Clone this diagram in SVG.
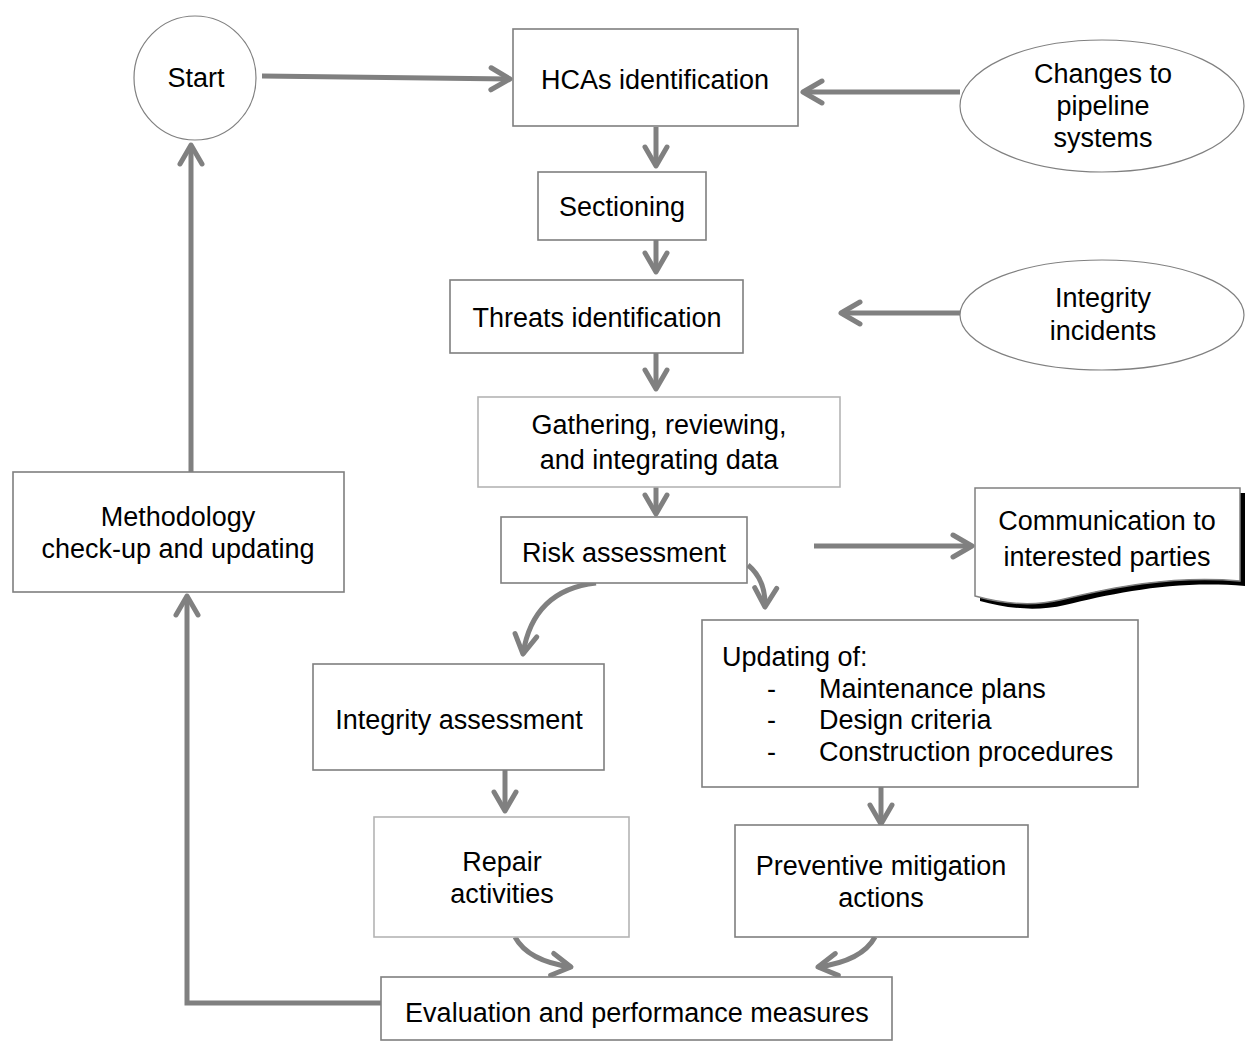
<svg xmlns="http://www.w3.org/2000/svg" width="1246" height="1043" viewBox="0 0 1246 1043">
<defs>
<style>
text{font-family:"Liberation Sans",Arial,sans-serif;font-size:27px;fill:#000;text-anchor:middle;dominant-baseline:central}
.box{fill:#fff;stroke:#7f7f7f;stroke-width:1.6}
.lbox{fill:#fff;stroke:#b4b4b4;stroke-width:1.6}
.ell{fill:#fff;stroke:#808080;stroke-width:1.2}
.con{fill:none;stroke:#808080;stroke-width:5}
</style>
<marker id="ah" viewBox="-24 -16 28 32" refX="0" refY="0" markerWidth="28" markerHeight="32" markerUnits="userSpaceOnUse" orient="auto">
<path d="M-19,-11 L0,0 L-19,11" fill="none" stroke="#808080" stroke-width="5" stroke-linecap="round" stroke-linejoin="round"/>
</marker>
</defs>
<rect width="1246" height="1043" fill="#fff"/>

<g id="connectors">
<path class="con" d="M262,76 L510,79" marker-end="url(#ah)"/>
<path class="con" d="M960,92 L803,92" marker-end="url(#ah)"/>
<path class="con" d="M656,127 L656,166" marker-end="url(#ah)"/>
<path class="con" d="M656,240 L656,272" marker-end="url(#ah)"/>
<path class="con" d="M960,313 L841,313" marker-end="url(#ah)"/>
<path class="con" d="M656,353 L656,389" marker-end="url(#ah)"/>
<path class="con" d="M656,487 L656,514" marker-end="url(#ah)"/>
<path class="con" d="M814,546 L972,546" marker-end="url(#ah)"/>
<path class="con" d="M748,565 Q766,580 765,607" marker-end="url(#ah)"/>
<path class="con" d="M596,583 Q533,590 523,654" marker-end="url(#ah)"/>
<path class="con" d="M505,770 L505,811" marker-end="url(#ah)"/>
<path class="con" d="M881,787 L881,824" marker-end="url(#ah)"/>
<path class="con" d="M515,937 Q528,961 571,967" marker-end="url(#ah)"/>
<path class="con" d="M875,937 Q862,961 818,967" marker-end="url(#ah)"/>
<path class="con" d="M381,1003 L187,1003 L187,596" marker-end="url(#ah)"/>
<path class="con" d="M191,472 L191,145" marker-end="url(#ah)"/>
</g>

<g id="start">
<ellipse class="ell" cx="195" cy="78" rx="61" ry="62"/>
<text x="196" y="78">Start</text>
</g>

<g id="hcas">
<rect class="box" x="513" y="29" width="285" height="97"/>
<text x="655" y="80">HCAs identification</text>
</g>

<g id="changes">
<ellipse class="ell" cx="1102" cy="106" rx="142" ry="66"/>
<text x="1103" y="74">Changes to</text>
<text x="1103" y="106">pipeline</text>
<text x="1103" y="138">systems</text>
</g>

<g id="sectioning">
<rect class="box" x="538" y="172" width="168" height="68"/>
<text x="622" y="207">Sectioning</text>
</g>

<g id="threats">
<rect class="box" x="450" y="280" width="293" height="73"/>
<text x="597" y="318">Threats identification</text>
</g>

<g id="incidents">
<ellipse class="ell" cx="1102" cy="315" rx="142" ry="55"/>
<text x="1103" y="298">Integrity</text>
<text x="1103" y="331">incidents</text>
</g>

<g id="gathering">
<rect class="lbox" x="478" y="397" width="362" height="90"/>
<text x="659" y="425">Gathering, reviewing,</text>
<text x="659" y="460">and integrating data</text>
</g>

<g id="risk">
<rect class="box" x="501" y="517" width="246" height="66"/>
<text x="624" y="553">Risk assessment</text>
</g>

<g id="communication">
<path d="M975,488 L1240,488 L1240,581 C1170,575 1110,588 1060,600 C1030,607 1000,603 975,596 Z" transform="translate(5,5)" fill="#000"/>
<path d="M975,488 L1240,488 L1240,581 C1170,575 1110,588 1060,600 C1030,607 1000,603 975,596 Z" fill="#fff" stroke="#808080" stroke-width="1.5"/>
<text x="1107" y="521">Communication to</text>
<text x="1107" y="557">interested parties</text>
</g>

<g id="updating">
<rect class="box" x="702" y="620" width="436" height="167"/>
<text x="722" y="657" style="text-anchor:start">Updating of:</text>
<text x="767" y="689" style="text-anchor:start">-</text>
<text x="819" y="689" style="text-anchor:start">Maintenance plans</text>
<text x="767" y="720" style="text-anchor:start">-</text>
<text x="819" y="720" style="text-anchor:start">Design criteria</text>
<text x="767" y="752" style="text-anchor:start">-</text>
<text x="819" y="752" style="text-anchor:start">Construction procedures</text>
</g>

<g id="integrity">
<rect class="box" x="313" y="664" width="291" height="106"/>
<text x="459" y="720">Integrity assessment</text>
</g>

<g id="repair">
<rect class="lbox" x="374" y="817" width="255" height="120"/>
<text x="502" y="862">Repair</text>
<text x="502" y="894">activities</text>
</g>

<g id="preventive">
<rect class="box" x="735" y="825" width="293" height="112"/>
<text x="881" y="866">Preventive mitigation</text>
<text x="881" y="898">actions</text>
</g>

<g id="evaluation">
<rect class="box" x="381" y="977" width="511" height="63"/>
<text x="637" y="1013">Evaluation and performance measures</text>
</g>

<g id="methodology">
<rect class="box" x="13" y="472" width="331" height="120"/>
<text x="178" y="517">Methodology</text>
<text x="178" y="549">check-up and updating</text>
</g>
</svg>
